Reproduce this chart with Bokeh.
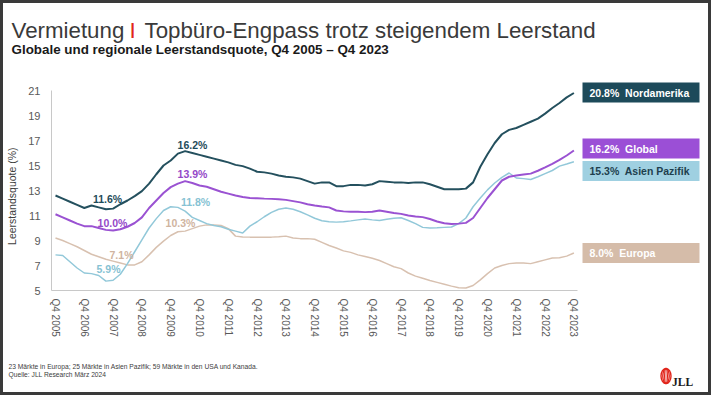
from bokeh.plotting import figure
from bokeh.models import FixedTicker, Range1d
from bokeh.layouts import column
from bokeh.core.properties import value
from bokeh.embed import file_html
from bokeh.resources import INLINE

# ---------------- data ----------------
quarter_index = list(range(73))  # Q4 2005 ... Q4 2023
tick_positions = list(range(0, 73, 4))
tick_labels = ["Q4 2005", "Q4 2006", "Q4 2007", "Q4 2008", "Q4 2009", "Q4 2010",
               "Q4 2011", "Q4 2012", "Q4 2013", "Q4 2014", "Q4 2015", "Q4 2016",
               "Q4 2017", "Q4 2018", "Q4 2019", "Q4 2020", "Q4 2021", "Q4 2022",
               "Q4 2023"]
y_ticks = [5, 7, 9, 11, 13, 15, 17, 19, 21]

nordamerika = [12.6, 12.35, 12.1, 11.85, 11.6, 11.8, 11.65, 11.5, 11.55, 11.9,
               12.2, 12.55, 12.95, 13.55, 14.3, 15.0, 15.4, 15.95, 16.15, 16.0,
               15.85, 15.7, 15.55, 15.4, 15.25, 15.05, 14.95, 14.75, 14.5, 14.45,
               14.35, 14.2, 14.1, 14.05, 13.95, 13.75, 13.55, 13.65, 13.65, 13.35,
               13.35, 13.45, 13.45, 13.4, 13.5, 13.75, 13.7, 13.65, 13.65, 13.6,
               13.65, 13.65, 13.5, 13.3, 13.1, 13.1, 13.1, 13.15, 13.65, 14.9,
               15.9, 16.8, 17.5, 17.85, 18.0, 18.25, 18.5, 18.75, 19.15, 19.6,
               20.0, 20.45, 20.8]

global_ = [11.1, 10.85, 10.6, 10.35, 10.15, 10.15, 10.0, 9.85, 9.8, 9.9,
           10.1, 10.4, 10.85, 11.6, 12.2, 12.8, 13.27, 13.55, 13.75, 13.6,
           13.4, 13.3, 13.1, 12.9, 12.75, 12.6, 12.48, 12.4, 12.38, 12.35,
           12.33, 12.3, 12.25, 12.15, 12.05, 11.9, 11.8, 11.72, 11.65, 11.4,
           11.33, 11.3, 11.3, 11.27, 11.3, 11.4, 11.3, 11.2, 11.13, 11.0,
           10.92, 10.87, 10.72, 10.52, 10.38, 10.32, 10.35, 10.41, 10.8, 11.6,
           12.4, 13.1, 13.8, 14.1, 14.2, 14.28, 14.35, 14.58, 14.85, 15.13,
           15.45, 15.8, 16.2]

asien_pazifik = [7.85, 7.8, 7.3, 6.8, 6.4, 6.35, 6.2, 5.75, 5.82, 6.3,
                 7.15, 8.1, 9.05, 10.0, 10.75, 11.4, 11.7, 11.65, 11.35, 10.85,
                 10.6, 10.35, 10.2, 10.1, 9.9, 9.75, 9.6, 10.15, 10.5, 10.9,
                 11.25, 11.5, 11.6, 11.5, 11.3, 11.05, 10.78, 10.58, 10.5, 10.47,
                 10.5, 10.57, 10.65, 10.72, 10.65, 10.6, 10.7, 10.78, 10.82, 10.6,
                 10.35, 10.05, 10.0, 10.02, 10.05, 10.08, 10.35, 10.8, 11.7, 12.4,
                 13.05, 13.6, 14.05, 14.4, 14.0, 13.95, 13.88, 14.1, 14.35, 14.6,
                 14.95, 15.12, 15.3]

europa = [9.2, 9.0, 8.75, 8.5, 8.2, 7.9, 7.7, 7.5, 7.35, 7.2,
          7.05, 7.05, 7.3, 7.85, 8.45, 8.95, 9.4, 9.7, 9.75, 9.95,
          10.15, 10.25, 10.25, 10.2, 9.95, 9.35, 9.28, 9.27, 9.27, 9.27,
          9.27, 9.3, 9.35, 9.2, 9.15, 9.15, 9.1, 8.85, 8.6, 8.4,
          8.17, 8.05, 7.85, 7.72, 7.58, 7.4, 7.15, 6.9, 6.75, 6.4,
          6.15, 5.98, 5.8, 5.65, 5.5, 5.35, 5.22, 5.2, 5.4, 5.85,
          6.35, 6.8, 7.0, 7.15, 7.2, 7.2, 7.15, 7.3, 7.45, 7.6,
          7.62, 7.75, 8.0]

series_names = ["Nordamerika", "Global", "Asien Pazifik", "Europa"]
end_values = ["20.8%", "16.2%", "15.3%", "8.0%"]
callout_text = ["16.2%", "13.9%", "11.8%", "10.3%", "11.6%", "10.0%", "7.1%", "5.9%"]

title_parts = ["Vermietung", "I", "Topbüro-Engpass trotz steigendem Leerstand"]
subtitle = "Globale und  regionale Leerstandsquote, Q4 2005 – Q4 2023"
footnotes = ["23 Märkte in Europa; 25 Märkte in Asien Pazifik; 59 Märkte in den USA und Kanada.",
             "Quelle: JLL Research März 2024"]

# ---------------- styles / layout ----------------
C_NA, C_GL, C_AP, C_EU = "#24505e", "#9a52d2", "#92c8d9", "#d8c1b0"
BOX_NA, BOX_GL, BOX_AP, BOX_EU = "#1d4a5a", "#9b4fd6", "#9fd0e1", "#d5bca9"
LBL_COLORS = ["#1f4c5b", "#9448c8", "#86c2d3", "#cfb4a0",
              "#1f4c5b", "#9448c8", "#cfb4a0", "#86c2d3"]
RED = "#e1251b"
FONT = "Liberation Sans"
BORDER = 3
IW = 711 - 2 * BORDER          # inner width
TOP_H, FOOT_H = 67, 37
MAIN_H = 395 - 2 * BORDER - TOP_H - FOOT_H


def qx(px):  # reference pixel x -> quarter coordinate
    return (px - 55) / 7.2


def vy(py):  # reference pixel y -> value coordinate
    return 5 + (290 - py) / 12.5


def no_align(fig):
    try:
        fig.frame_align = False
    except AttributeError:
        pass


def blank_fig(height, y0, y1):
    f = figure(width=IW, height=height, output_backend="svg", toolbar_location=None,
               x_range=Range1d(BORDER, 711 - BORDER), y_range=Range1d(y1, y0),
               x_axis_type=None, y_axis_type=None, min_border=0, title=None)
    f.outline_line_color = None
    f.grid.visible = False
    f.background_fill_color = "white"
    f.border_fill_color = "white"
    no_align(f)
    return f


# ---------- title figure ----------
t = blank_fig(TOP_H, BORDER, BORDER + TOP_H)
t.text(x=[11, 129, 144], y=[30, 30, 30], text=title_parts,
       text_color=["#3a3a3a", RED, "#3a3a3a"], text_font=value(FONT),
       text_font_size="22.3px", text_baseline="alphabetic", text_align="left")
t.text(x=[11], y=[48.5], text=[subtitle], text_color="#1a1a1a", text_font=value(FONT),
       text_font_style="bold", text_font_size="13.4px", text_baseline="alphabetic")

# ---------- main chart ----------
p = figure(width=IW, height=MAIN_H, output_backend="svg", toolbar_location=None,
           x_range=Range1d(qx(51), qx(711 - BORDER)), y_range=Range1d(5, vy(78)),
           min_border_left=51 - BORDER, min_border_right=0,
           min_border_top=78 - (BORDER + TOP_H),
           min_border_bottom=(BORDER + TOP_H + MAIN_H) - 290, title=None)
no_align(p)
p.outline_line_color = None
p.background_fill_color = "white"
p.border_fill_color = "white"
p.xgrid.visible = False
p.ygrid.visible = False

p.xaxis.ticker = FixedTicker(ticks=tick_positions)
p.xaxis.major_label_overrides = {tp: lb for tp, lb in zip(tick_positions, tick_labels)}
p.xaxis.major_label_orientation = "vertical"
p.xaxis.bounds = (qx(51), 72.5)
p.yaxis.ticker = FixedTicker(ticks=y_ticks)
p.yaxis.bounds = (5, 21)
p.yaxis.axis_label = "Leerstandsquote (%)" + "\u00a0" * 8
p.yaxis.axis_label_text_font = FONT
p.yaxis.axis_label_text_font_style = "normal"
p.yaxis.axis_label_text_font_size = "10.5px"
p.yaxis.axis_label_text_color = "#404040"
p.yaxis.axis_label_standoff = 7
for ax in (p.xaxis, p.yaxis):
    ax.axis_line_color = "#c8c8c8"
    ax.axis_line_width = 1
    ax.major_tick_line_color = None
    ax.minor_tick_line_color = None
    ax.major_tick_out = 0
    ax.major_tick_in = 0
    ax.major_label_text_font = FONT
    ax.major_label_text_color = "#595959"
p.xaxis.major_label_text_font_size = "10px"
p.xaxis.major_label_standoff = 8
p.yaxis.major_label_text_font_size = "11px"
p.yaxis.major_label_standoff = 11

p.line(quarter_index, europa, line_color=C_EU, line_width=1.5)
p.line(quarter_index, asien_pazifik, line_color=C_AP, line_width=1.5)
p.line(quarter_index, global_, line_color=C_GL, line_width=2)
p.line(quarter_index, nordamerika, line_color=C_NA, line_width=2)

callout_x = [qx(192), qx(192), qx(195), qx(180), qx(107), qx(112), qx(121), qx(108)]
callout_y = [vy(144), vy(173), vy(201), vy(222), vy(198.5), vy(222), vy(254), vy(268.5)]
p.text(x=callout_x, y=callout_y, text=callout_text, text_color=LBL_COLORS,
       text_font=value(FONT), text_font_style="bold", text_font_size="10.5px",
       text_align="center", text_baseline="middle")

box_center = [vy(92), vy(148), vy(170.5), vy(252.5)]
half = 10 / 12.5
p.quad(left=qx(582), right=qx(699),
       top=[c + half for c in box_center], bottom=[c - half for c in box_center],
       fill_color=[BOX_NA, BOX_GL, BOX_AP, BOX_EU], line_color=None)
p.text(x=qx(589), y=box_center,
       text=[f"{v}\u00a0 {n}" for v, n in zip(end_values, series_names)],
       text_color=["white", "white", "#1e3f4e", "white"],
       text_font=value(FONT), text_font_style="bold", text_font_size="10.5px",
       text_align="left", text_baseline="middle")

# ---------- footer ----------
fy0 = BORDER + TOP_H + MAIN_H
f = blank_fig(FOOT_H, fy0, fy0 + FOOT_H)
f.text(x=[8, 8], y=[366, 373.5], text=footnotes, text_color="#404040",
       text_font=value(FONT), text_font_size="6.7px", text_baseline="alphabetic")
f.ellipse(x=[665.5, 665.5, 665.5], y=[375.5, 375.5, 375.5], width=[10, 6.4, 2.6],
          height=[15, 15, 15], fill_color=None, line_color=RED, line_width=1.4)
f.text(x=[671.5], y=[381], text=["JLL"], text_color="#1a1a1a",
       text_font=value("Liberation Serif"), text_font_style="bold",
       text_font_size="11.5px", text_baseline="alphabetic")

layout = column(t, p, f, spacing=0,
                styles={"border": f"{BORDER}px solid #3a3a3a", "background-color": "white"})

open("out.html", "w").write(file_html(layout, INLINE))
